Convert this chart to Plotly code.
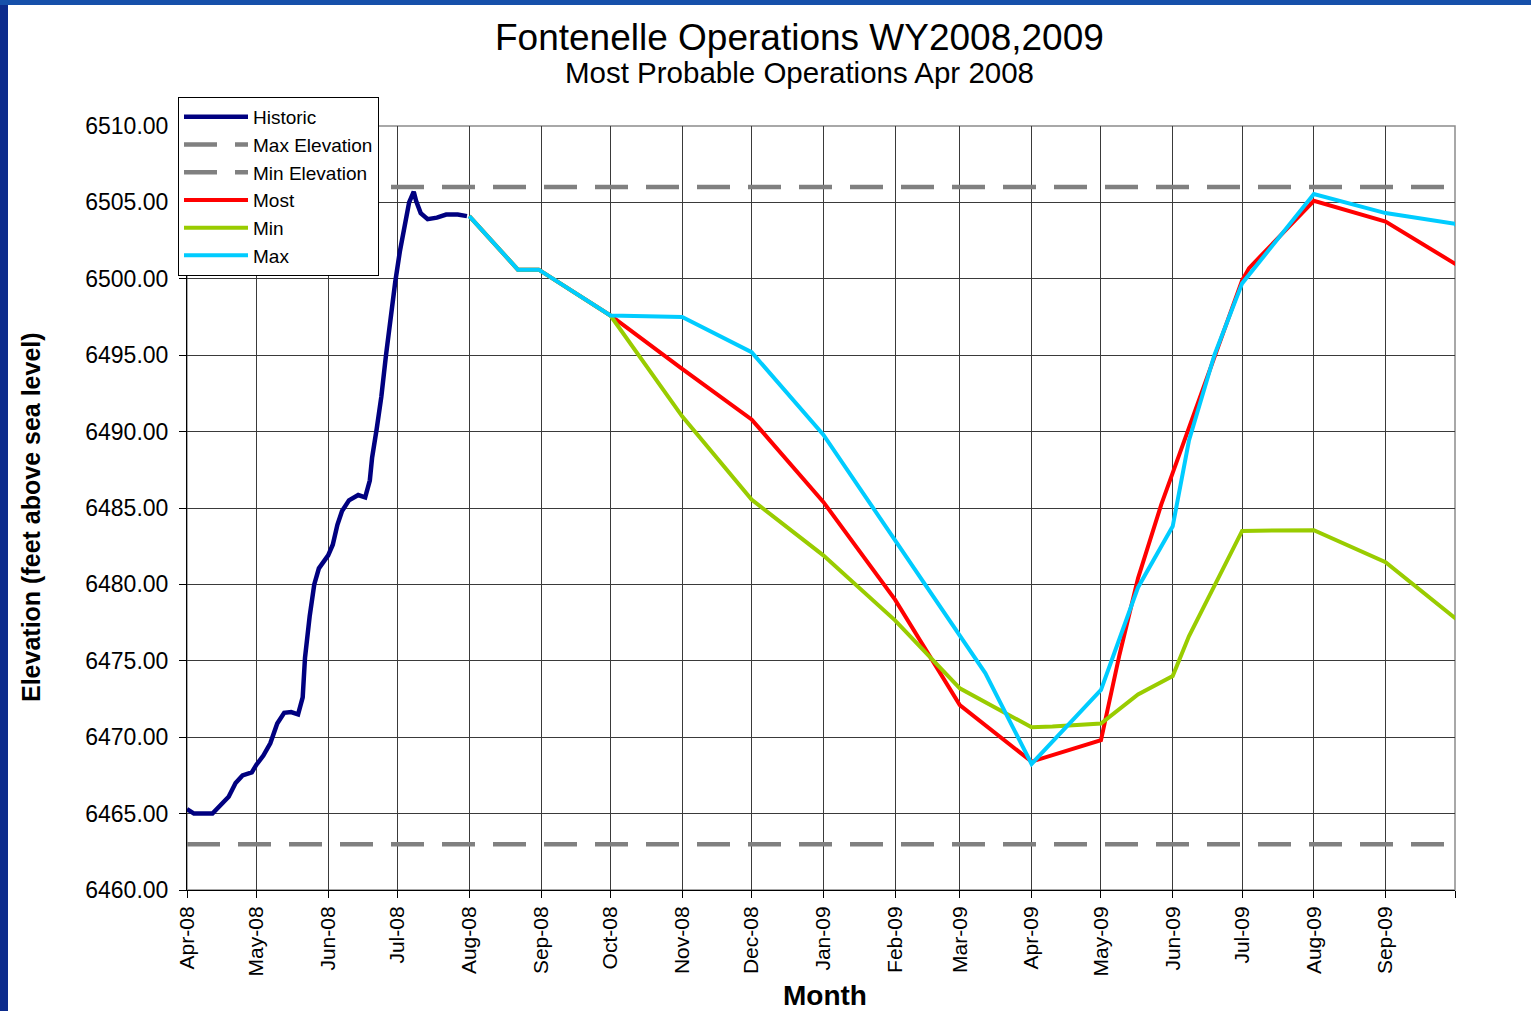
import plotly.graph_objects as go

# ---------------- data ----------------
hist_dates = ["2008-04-01", "2008-04-04", "2008-04-12", "2008-04-16", "2008-04-19", "2008-04-22",
              "2008-04-25", "2008-04-29", "2008-05-01", "2008-05-04", "2008-05-07", "2008-05-10",
              "2008-05-13", "2008-05-16", "2008-05-19", "2008-05-21", "2008-05-22", "2008-05-24",
              "2008-05-26", "2008-05-28", "2008-06-01", "2008-06-03", "2008-06-05", "2008-06-07",
              "2008-06-10", "2008-06-14", "2008-06-17", "2008-06-19", "2008-06-20", "2008-06-22",
              "2008-06-24", "2008-06-26", "2008-06-28", "2008-06-30", "2008-07-02", "2008-07-04",
              "2008-07-06", "2008-07-08", "2008-07-09", "2008-07-11", "2008-07-14", "2008-07-18",
              "2008-07-22", "2008-07-27", "2008-07-31"]
hist_vals = [6465.3, 6465.0, 6465.0, 6465.65, 6466.1, 6467.0,
             6467.5, 6467.7, 6468.2, 6468.8, 6469.6, 6470.9,
             6471.6, 6471.65, 6471.5, 6472.6, 6475.2, 6477.9,
             6480.0, 6481.05, 6481.9, 6482.6, 6483.9, 6484.8,
             6485.5, 6485.85, 6485.7, 6486.8, 6488.3, 6490.2,
             6492.3, 6495.0, 6497.7, 6499.8, 6501.8, 6503.5,
             6505.0, 6505.7, 6505.1, 6504.3, 6503.9, 6504.0,
             6504.2, 6504.2, 6504.1]

most_dates = ["2008-08-01", "2008-08-22", "2008-08-31", "2008-10-01", "2008-11-01", "2008-12-01",
              "2009-01-01", "2009-02-01", "2009-03-01", "2009-04-01", "2009-05-01", "2009-05-09",
              "2009-05-17", "2009-05-27", "2009-06-01", "2009-07-01", "2009-07-04", "2009-08-01",
              "2009-09-01", "2009-10-01", "2009-10-03"]
most_vals = [6504.1, 6500.6, 6500.6, 6497.6, 6494.1, 6490.8,
             6485.4, 6479.0, 6472.1, 6468.4, 6469.8, 6475.4,
             6480.4, 6485.2, 6487.3, 6499.9, 6500.7, 6505.1,
             6503.75, 6501.0, 6500.8]

min_dates = ["2008-08-01", "2008-08-22", "2008-08-31", "2008-10-01", "2008-11-01", "2008-12-01",
             "2009-01-01", "2009-02-01", "2009-03-01", "2009-04-01", "2009-04-10", "2009-05-01",
             "2009-05-17", "2009-06-01", "2009-06-08", "2009-07-01", "2009-08-01", "2009-09-01",
             "2009-10-01", "2009-10-03"]
min_vals = [6504.1, 6500.6, 6500.6, 6497.6, 6491.0, 6485.55,
            6481.9, 6477.65, 6473.2, 6470.65, 6470.7, 6470.9,
            6472.8, 6474.0, 6476.6, 6483.5, 6483.55, 6481.45,
            6477.8, 6477.9]

max_dates = ["2008-08-01", "2008-08-22", "2008-08-31", "2008-10-01", "2008-11-01", "2008-12-01",
             "2009-01-01", "2009-02-01", "2009-03-01", "2009-03-12", "2009-04-01", "2009-05-01",
             "2009-05-17", "2009-06-01", "2009-06-08", "2009-06-19", "2009-07-01", "2009-08-01",
             "2009-09-01", "2009-10-01", "2009-10-03"]
max_vals = [6504.1, 6500.6, 6500.6, 6497.6, 6497.5, 6495.2,
            6489.8, 6482.9, 6476.7, 6474.2, 6468.25, 6473.1,
            6479.8, 6483.8, 6489.4, 6495.0, 6499.7, 6505.55,
            6504.3, 6503.6, 6503.2]

elev_dates = ["2008-04-01", "2009-10-01"]
max_elevation = [6506.0, 6506.0]
min_elevation = [6463.0, 6463.0]

month_ticks = ["2008-04-01", "2008-05-01", "2008-06-01", "2008-07-01", "2008-08-01", "2008-09-01",
               "2008-10-01", "2008-11-01", "2008-12-01", "2009-01-01", "2009-02-01", "2009-03-01",
               "2009-04-01", "2009-05-01", "2009-06-01", "2009-07-01", "2009-08-01", "2009-09-01",
               "2009-10-01"]
month_labels = ["Apr-08", "May-08", "Jun-08", "Jul-08", "Aug-08", "Sep-08", "Oct-08", "Nov-08",
                "Dec-08", "Jan-09", "Feb-09", "Mar-09", "Apr-09", "May-09", "Jun-09", "Jul-09",
                "Aug-09", "Sep-09", ""]
y_ticks = [6460, 6465, 6470, 6475, 6480, 6485, 6490, 6495, 6500, 6505, 6510]

# ---------------- geometry ----------------
W, H = 1531, 1011
L, R, T, B = 187, 1455, 126, 890
PW, PH = R - L, B - T


def px(x):
    return (x - L) / PW


def py(y):
    return (B - y) / PH


FONT = "Liberation Sans, Arial, sans-serif"
DASH = "33px,18px"

fig = go.Figure()
fig.add_trace(go.Scatter(x=hist_dates, y=hist_vals, mode="lines", name="Historic",
                         line=dict(color="#000080", width=4.5)))
fig.add_trace(go.Scatter(x=elev_dates, y=max_elevation, mode="lines", name="Max Elevation",
                         line=dict(color="#808080", width=4.5, dash=DASH)))
fig.add_trace(go.Scatter(x=elev_dates, y=min_elevation, mode="lines", name="Min Elevation",
                         line=dict(color="#808080", width=4.5, dash=DASH)))
fig.add_trace(go.Scatter(x=most_dates, y=most_vals, mode="lines", name="Most",
                         line=dict(color="#FF0000", width=4)))
fig.add_trace(go.Scatter(x=min_dates, y=min_vals, mode="lines", name="Min",
                         line=dict(color="#99CC00", width=4)))
fig.add_trace(go.Scatter(x=max_dates, y=max_vals, mode="lines", name="Max",
                         line=dict(color="#00CCFF", width=4)))

fig.update_layout(
    width=W, height=H,
    margin=dict(l=L, r=W - R, t=T, b=H - B, pad=0),
    paper_bgcolor="white", plot_bgcolor="white",
    font=dict(family=FONT, color="black"),
    showlegend=True,
    legend=dict(x=px(178), y=py(97), xanchor="left", yanchor="top",
                bgcolor="white", bordercolor="black", borderwidth=1,
                font=dict(size=19, family=FONT), itemwidth=64,
                tracegroupgap=0, traceorder="normal"),
    xaxis=dict(type="date", range=["2008-04-01", "2009-10-01"],
               tickmode="array", tickvals=month_ticks, ticktext=month_labels,
               tickangle=-90, tickfont=dict(size=21, family=FONT),
               showgrid=True, gridcolor="#3a3a3a", gridwidth=1,
               showline=True, linecolor="black", linewidth=1,
               ticks="outside", ticklen=7, tickcolor="black", zeroline=False),
    yaxis=dict(range=[6460, 6510], tickmode="array", tickvals=y_ticks,
               ticktext=[f"{v:.2f}" for v in y_ticks],
               tickfont=dict(size=23, family=FONT), ticklabelstandoff=6,
               showgrid=True, gridcolor="#3a3a3a", gridwidth=1,
               showline=True, linecolor="black", linewidth=1,
               ticks="outside", ticklen=7, tickcolor="black", zeroline=False),
)

shapes = [
    # plot border (top/right grey)
    dict(type="rect", xref="paper", yref="paper", x0=0, x1=1, y0=0, y1=1,
         line=dict(color="#8c8c8c", width=1.5), layer="below"),
    # blue slide frame
    dict(type="rect", xref="paper", yref="paper", x0=px(0), x1=px(8), y0=py(H), y1=py(0),
         fillcolor="#0c2b8c", line=dict(width=0), layer="above"),
    dict(type="rect", xref="paper", yref="paper", x0=px(0), x1=px(W), y0=py(5), y1=py(0),
         fillcolor="#1650aa", line=dict(width=0), layer="above"),
]
fig.update_layout(shapes=shapes)

annotations = [
    dict(text="Fontenelle Operations WY2008,2009", x=px(799), y=py(38), xref="paper", yref="paper",
         showarrow=False, xanchor="center", yanchor="middle", font=dict(size=37, family=FONT)),
    dict(text="Most Probable Operations Apr 2008", x=px(799), y=py(73), xref="paper", yref="paper",
         showarrow=False, xanchor="center", yanchor="middle", font=dict(size=29.5, family=FONT)),
    dict(text="<b>Elevation (feet above sea level)</b>", x=px(31), y=py(517), xref="paper",
         yref="paper", showarrow=False, xanchor="center", yanchor="middle", textangle=-90,
         font=dict(size=25, family=FONT)),
    dict(text="<b>Month</b>", x=px(825), y=py(995), xref="paper", yref="paper",
         showarrow=False, xanchor="center", yanchor="middle", font=dict(size=28, family=FONT)),
]
fig.update_layout(annotations=annotations)

fig.write_html("out.html", config={"displayModeBar": False},
               post_script="document.body.style.margin='0';")
